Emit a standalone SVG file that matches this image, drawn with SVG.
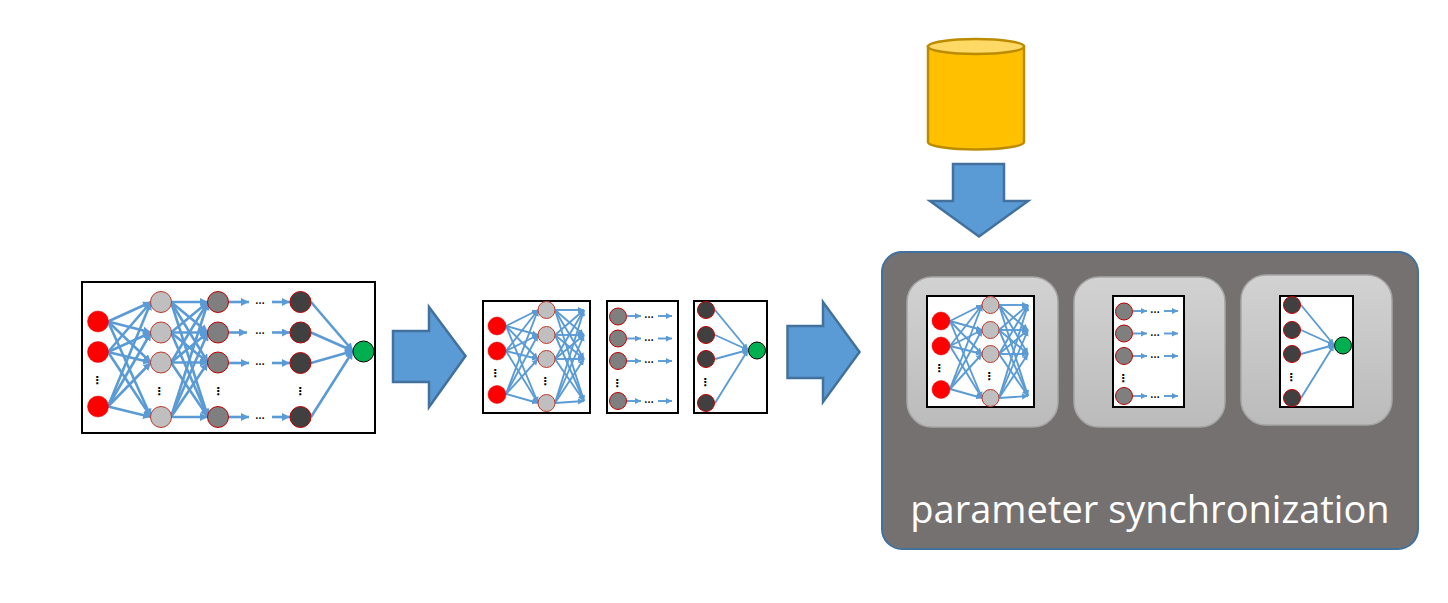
<svg xmlns="http://www.w3.org/2000/svg" xmlns:xlink="http://www.w3.org/1999/xlink" width="1448" height="603" viewBox="0 0 1448 603">
<style>
.big{fill:#5B9BD5;stroke:#41719C;stroke-width:2.5;stroke-linejoin:miter}
.frame{fill:#fff;stroke:#000;stroke-width:2}
.card{fill:url(#cardfill);stroke:#A6A6A6;stroke-width:1.5}
.e{stroke:#5B9BD5;stroke-width:2.600;fill:none;marker-end:url(#ah)}
.s{stroke:#5B9BD5;stroke-width:1.900;fill:none;marker-end:url(#ahs)}
.r{fill:#FF0000;stroke:#E00000;stroke-width:.5}
.g1{fill:#BFBFBF;stroke:#C0392B;stroke-width:1}
.g2{fill:#7F7F7F;stroke:#C00000;stroke-width:1}
.g3{fill:#404040;stroke:#C00000;stroke-width:1}
.gr{fill:#00B050;stroke:#000;stroke-width:1}
.h{font-family:"Liberation Sans",Arial,sans-serif;font-weight:700;font-size:10px;text-anchor:middle;fill:#000}
.v{font-family:"DejaVu Sans",sans-serif;font-weight:700;font-size:11px;text-anchor:middle;fill:#000}
</style>
<defs>
<linearGradient id="cardfill" x1="0" y1="0" x2="0" y2="1"><stop offset="0" stop-color="#D2D2D2"/><stop offset="1" stop-color="#BBBBBB"/></linearGradient>
<marker id="ah" markerUnits="userSpaceOnUse" markerWidth="10" markerHeight="10" refX="8" refY="4" orient="auto"><path d="M0 0L8 4L0 8z" fill="#5B9BD5"/></marker>
<marker id="ahs" markerUnits="userSpaceOnUse" markerWidth="8" markerHeight="8" refX="6" refY="3" orient="auto"><path d="M0 0L6 3L0 6z" fill="#5B9BD5"/></marker>

<g id="edges-a">
<line class="s" x1="506" y1="326" x2="538" y2="310"/><line class="s" x1="506" y1="326" x2="538" y2="335"/><line class="s" x1="506" y1="326" x2="538" y2="359"/><line class="s" x1="506" y1="326" x2="538" y2="403"/>
<line class="s" x1="506" y1="351" x2="538" y2="310"/><line class="s" x1="506" y1="351" x2="538" y2="335"/><line class="s" x1="506" y1="351" x2="538" y2="359"/><line class="s" x1="506" y1="351" x2="538" y2="403"/>
<line class="s" x1="506" y1="394" x2="538" y2="310"/><line class="s" x1="506" y1="394" x2="538" y2="335"/><line class="s" x1="506" y1="394" x2="538" y2="359"/><line class="s" x1="506" y1="394" x2="538" y2="403"/>
<line class="s" x1="555" y1="310" x2="584" y2="310"/><line class="s" x1="555" y1="310" x2="584" y2="335"/><line class="s" x1="555" y1="310" x2="584" y2="359"/><line class="s" x1="555" y1="310" x2="584" y2="401"/>
<line class="s" x1="555" y1="335" x2="584" y2="310"/><line class="s" x1="555" y1="335" x2="584" y2="335"/><line class="s" x1="555" y1="335" x2="584" y2="359"/><line class="s" x1="555" y1="335" x2="584" y2="401"/>
<line class="s" x1="555" y1="359" x2="584" y2="310"/><line class="s" x1="555" y1="359" x2="584" y2="335"/><line class="s" x1="555" y1="359" x2="584" y2="359"/><line class="s" x1="555" y1="359" x2="584" y2="401"/>
<line class="s" x1="555" y1="403" x2="584" y2="310"/><line class="s" x1="555" y1="403" x2="584" y2="335"/><line class="s" x1="555" y1="403" x2="584" y2="359"/><line class="s" x1="555" y1="403" x2="584" y2="401"/>
</g>
<g id="edges-b">
<line class="s" x1="627" y1="316" x2="641" y2="316"/><line class="s" x1="658" y1="316" x2="672" y2="316"/>
<line class="s" x1="627" y1="338.500" x2="641" y2="338.500"/><line class="s" x1="658" y1="338.500" x2="672" y2="338.500"/>
<line class="s" x1="627" y1="361" x2="641" y2="361"/><line class="s" x1="658" y1="361" x2="672" y2="361"/>
<line class="s" x1="627" y1="401" x2="641" y2="401"/><line class="s" x1="658" y1="401" x2="672" y2="401"/>
</g>
<g id="edges-c">
<line class="s" x1="715" y1="310" x2="748" y2="350"/><line class="s" x1="715" y1="335" x2="748" y2="350"/><line class="s" x1="715" y1="359" x2="748" y2="350"/><line class="s" x1="715" y1="403" x2="748" y2="350"/>
</g>
<g id="nodes-a">
<circle class="r" cx="497" cy="326" r="9"/><circle class="r" cx="497" cy="351" r="9"/><circle class="r" cx="497" cy="394.500" r="9"/>
<circle class="g1" cx="546.500" cy="310" r="8.500"/><circle class="g1" cx="546.500" cy="335" r="8.500"/><circle class="g1" cx="546.500" cy="359" r="8.500"/><circle class="g1" cx="546.500" cy="403" r="8.500"/>
<text class="v" x="495" y="377">⋮</text><text class="v" x="545" y="385">⋮</text>
</g>
<g id="nodes-b">
<circle class="g2" cx="618" cy="316.500" r="8.500"/><circle class="g2" cx="618" cy="338.500" r="8.500"/><circle class="g2" cx="618" cy="361" r="8.500"/><circle class="g2" cx="618" cy="401" r="8.500"/>
<text class="h" x="649" y="318">…</text><text class="h" x="649" y="340.500">…</text><text class="h" x="649" y="363">…</text><text class="h" x="649" y="402.500">…</text>
<text class="v" x="617" y="387">⋮</text>
</g>
<g id="nodes-c">
<circle class="g3" cx="706" cy="310" r="8.500"/><circle class="g3" cx="706" cy="335" r="8.500"/><circle class="g3" cx="706" cy="359" r="8.500"/><circle class="g3" cx="706" cy="403" r="8.500"/>
<circle class="gr" cx="757" cy="350.500" r="8.500"/>
<text class="v" x="705" y="386">⋮</text>
</g>
</defs>

<g id="arrow-1"><polygon class="big" points="393,331 429,331 429,307 465.500,356 429,407 429,382 393,382"/></g>
<g id="arrow-2"><polygon class="big" points="787.500,326 823,326 823,302 859.500,352 823,402 823,378 787.500,378"/></g>
<g id="arrow-3"><polygon class="big" points="953,164 1004,164 1004,201 1028,201 979,236.500 930,201 953,201"/></g>

<g id="database">
<path d="M928 46.500V142A48 7.500 0 0 0 1024 142V46.500z" fill="#FFC000" stroke="#BC8C00" stroke-width="2.500"/>
<ellipse cx="976" cy="46.500" rx="48" ry="7.500" fill="#FFD966" stroke="#BC8C00" stroke-width="2.500"/>
</g>

<g id="panel">
<rect x="882" y="252" width="536" height="297" rx="20" fill="#767171" stroke="#41719C" stroke-width="2"/>
<text x="1150" y="523" font-family="'Open Sans','Noto Sans',sans-serif" font-size="38" fill="#fff" text-anchor="middle">parameter synchronization</text>
</g>
<g id="cards">
<rect class="card" x="907" y="277" width="151" height="150" rx="25"/>
<rect class="card" x="1074" y="277" width="151" height="150" rx="25"/>
<rect class="card" x="1241" y="275" width="151" height="150" rx="25"/>
</g>

<g id="frames">
<rect class="frame" x="82" y="282" width="293" height="151"/>
<rect class="frame" x="483" y="301" width="107" height="112"/>
<rect class="frame" x="607" y="301" width="71" height="112"/>
<rect class="frame" x="694" y="301" width="73" height="112"/>
<rect class="frame" x="927" y="296" width="107" height="111"/>
<rect class="frame" x="1113" y="296" width="71" height="111"/>
<rect class="frame" x="1280" y="296" width="73" height="111"/>
</g>

<g id="connectors">
<g id="edges-full">
<line class="e" x1="108" y1="321.500" x2="151" y2="302"/><line class="e" x1="108" y1="321.500" x2="151" y2="332.500"/><line class="e" x1="108" y1="321.500" x2="151" y2="362.500"/><line class="e" x1="108" y1="321.500" x2="151" y2="417"/>
<line class="e" x1="108" y1="352" x2="151" y2="302"/><line class="e" x1="108" y1="352" x2="151" y2="332.500"/><line class="e" x1="108" y1="352" x2="151" y2="362.500"/><line class="e" x1="108" y1="352" x2="151" y2="417"/>
<line class="e" x1="108" y1="406.500" x2="151" y2="302"/><line class="e" x1="108" y1="406.500" x2="151" y2="332.500"/><line class="e" x1="108" y1="406.500" x2="151" y2="362.500"/><line class="e" x1="108" y1="406.500" x2="151" y2="417"/>
<line class="e" x1="171" y1="302" x2="208" y2="302"/><line class="e" x1="171" y1="302" x2="208" y2="332.500"/><line class="e" x1="171" y1="302" x2="208" y2="362.500"/><line class="e" x1="171" y1="302" x2="208" y2="417"/>
<line class="e" x1="171" y1="332.500" x2="208" y2="302"/><line class="e" x1="171" y1="332.500" x2="208" y2="332.500"/><line class="e" x1="171" y1="332.500" x2="208" y2="362.500"/><line class="e" x1="171" y1="332.500" x2="208" y2="417"/>
<line class="e" x1="171" y1="362.500" x2="208" y2="302"/><line class="e" x1="171" y1="362.500" x2="208" y2="332.500"/><line class="e" x1="171" y1="362.500" x2="208" y2="362.500"/><line class="e" x1="171" y1="362.500" x2="208" y2="417"/>
<line class="e" x1="171" y1="417" x2="208" y2="302"/><line class="e" x1="171" y1="417" x2="208" y2="332.500"/><line class="e" x1="171" y1="417" x2="208" y2="362.500"/><line class="e" x1="171" y1="417" x2="208" y2="417"/>
<line class="e" x1="228" y1="302" x2="249" y2="302"/><line class="e" x1="272" y1="302" x2="290" y2="302"/>
<line class="e" x1="228" y1="332.500" x2="247" y2="332.500"/><line class="e" x1="272" y1="332.500" x2="290" y2="332.500"/>
<line class="e" x1="228" y1="363" x2="249" y2="363"/><line class="e" x1="272" y1="363" x2="290" y2="363"/>
<line class="e" x1="228" y1="417" x2="249" y2="417"/><line class="e" x1="272" y1="417" x2="290" y2="417"/>
<line class="e" x1="311" y1="302" x2="353" y2="351"/><line class="e" x1="311" y1="332.500" x2="353" y2="351"/><line class="e" x1="311" y1="363" x2="353" y2="351"/><line class="e" x1="311" y1="417" x2="353" y2="351"/>
</g>
<use xlink:href="#edges-a"/><use xlink:href="#edges-b"/><use xlink:href="#edges-c"/>
<use xlink:href="#edges-a" x="444" y="-5"/><use xlink:href="#edges-b" x="506" y="-5"/><use xlink:href="#edges-c" x="586" y="-5"/>
</g>

<g id="net-full">
<circle class="r" cx="98" cy="321.500" r="10.500"/><circle class="r" cx="98" cy="352" r="10.500"/><circle class="r" cx="98" cy="406.500" r="10.500"/>
<circle class="g1" cx="161" cy="302" r="10.500"/><circle class="g1" cx="161" cy="332.500" r="10.500"/><circle class="g1" cx="161" cy="362.500" r="10.500"/><circle class="g1" cx="161" cy="417" r="10.500"/>
<circle class="g2" cx="218" cy="302" r="10.500"/><circle class="g2" cx="218" cy="332.500" r="10.500"/><circle class="g2" cx="218" cy="362.500" r="10.500"/><circle class="g2" cx="218" cy="417" r="10.500"/>
<circle class="g3" cx="300.500" cy="302" r="10.500"/><circle class="g3" cx="300.500" cy="332.500" r="10.500"/><circle class="g3" cx="300.500" cy="363" r="10.500"/><circle class="g3" cx="300.500" cy="417" r="10.500"/>
<circle class="gr" cx="363.500" cy="351.500" r="10.500"/>
<text class="h" x="260" y="303.500">…</text><text class="h" x="260" y="334">…</text><text class="h" x="260" y="365">…</text><text class="h" x="260" y="418.500">…</text>
<text class="v" x="97" y="384">⋮</text><text class="v" x="159" y="395">⋮</text><text class="v" x="218" y="395">⋮</text><text class="v" x="300" y="395">⋮</text>
</g>
<g id="net-a"><use xlink:href="#nodes-a"/></g>
<g id="net-b"><use xlink:href="#nodes-b"/></g>
<g id="net-c"><use xlink:href="#nodes-c"/></g>
<g id="net-a-sync"><use xlink:href="#nodes-a" x="444" y="-5"/></g>
<g id="net-b-sync"><use xlink:href="#nodes-b" x="506" y="-5"/></g>
<g id="net-c-sync"><use xlink:href="#nodes-c" x="586" y="-5"/></g>
</svg>
